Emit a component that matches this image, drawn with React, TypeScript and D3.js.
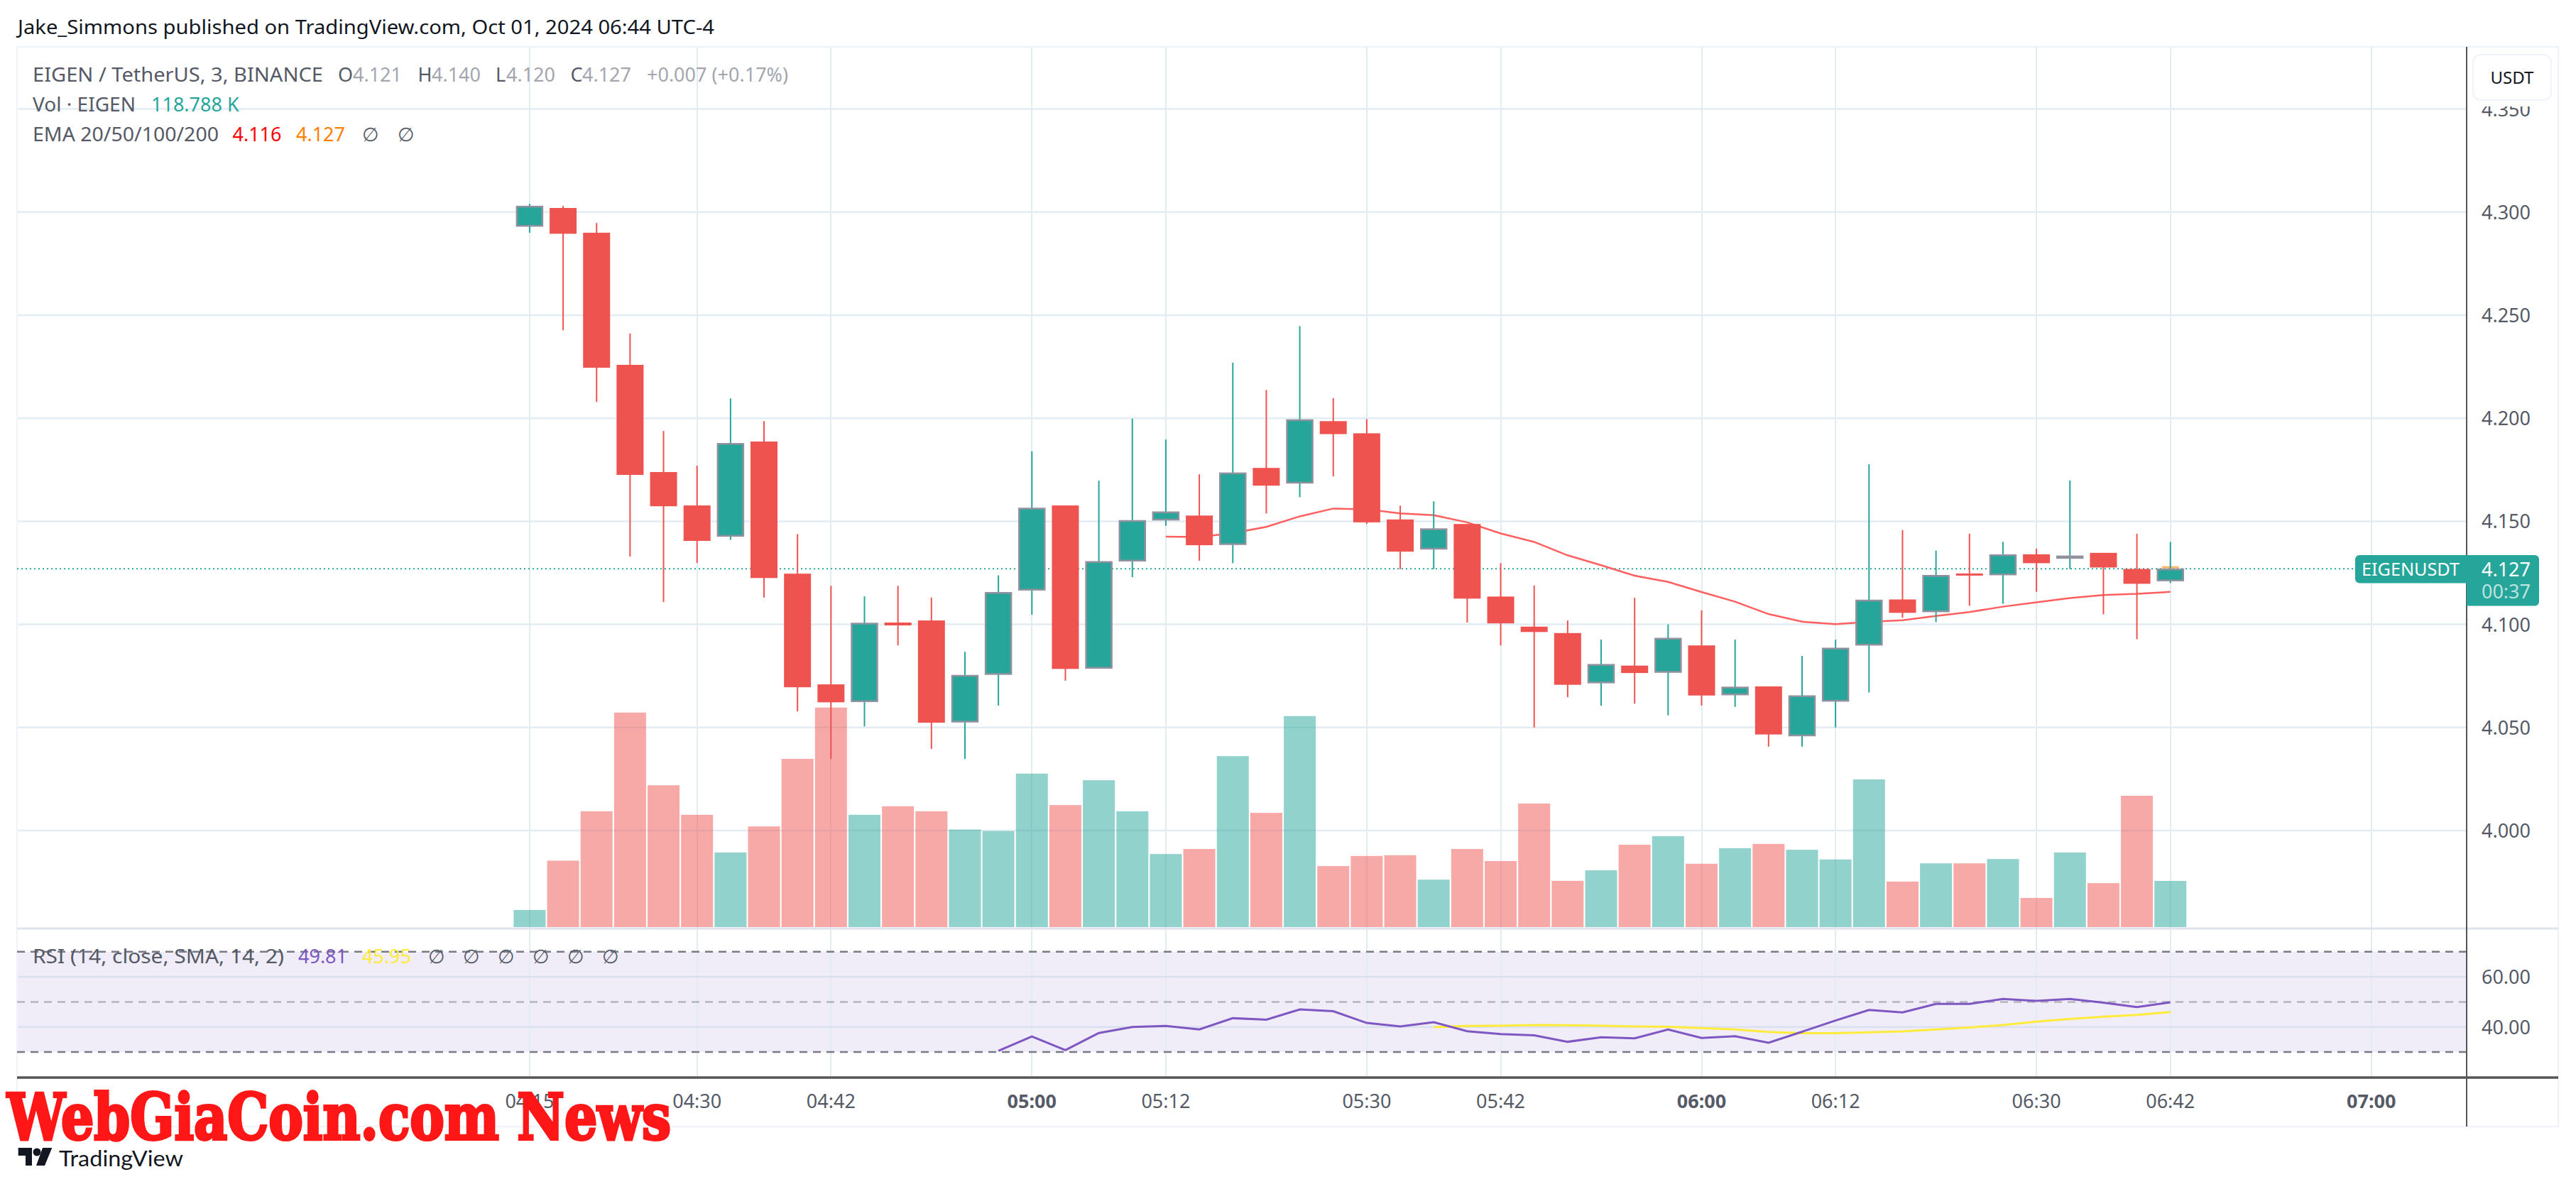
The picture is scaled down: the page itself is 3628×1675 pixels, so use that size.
import React from 'react';
import * as d3 from 'd3';

const opens = [4.293,4.302,4.290,4.2259,4.1739,4.1577,4.1426,4.1887,4.1246,4.0709,4.0624,4.1009,4.1019,4.0525,4.0756,4.1165,4.1577,4.0786,4.1306,4.1505,4.1528,4.1386,4.1759,4.1684,4.1986,4.1927,4.1509,4.1364,4.1487,4.1135,4.0989,4.0958,4.0715,4.08,4.0766,4.0898,4.0657,4.0699,4.0458,4.0626,4.0898,4.1121,4.106,4.1247,4.1239,4.134,4.1326,4.1347,4.1269,4.121];
const closes = [4.303,4.2895,4.2245,4.1725,4.1573,4.1405,4.1879,4.1225,4.0695,4.0622,4.1007,4.0995,4.0523,4.0754,4.1156,4.1565,4.0784,4.1306,4.1505,4.1547,4.1384,4.1736,4.1673,4.1994,4.1923,4.1495,4.1353,4.1465,4.1125,4.1005,4.0963,4.0707,4.0807,4.0764,4.0934,4.0655,4.0697,4.0466,4.0655,4.0886,4.1119,4.1056,4.1239,4.1237,4.1339,4.1297,4.1333,4.1276,4.1197,4.127];
const highs = [4.304,4.303,4.2947,4.2411,4.1938,4.177,4.2096,4.1986,4.1438,4.1187,4.1136,4.1187,4.113,4.0867,4.1238,4.184,4.1577,4.1697,4.1998,4.1897,4.1728,4.2269,4.2137,4.2447,4.2097,4.1996,4.1576,4.1597,4.1487,4.1297,4.1189,4.1019,4.0926,4.1129,4.1,4.1068,4.0926,4.0699,4.0847,4.0926,4.1777,4.1458,4.1358,4.144,4.14,4.1368,4.1698,4.1347,4.144,4.14];
const lows = [4.29,4.2427,4.2079,4.1329,4.1108,4.1298,4.141,4.113,4.0578,4.0347,4.0505,4.0898,4.0396,4.0347,4.0606,4.1047,4.0727,4.0786,4.1229,4.1478,4.1309,4.1297,4.1538,4.1617,4.1718,4.1487,4.1268,4.1268,4.1009,4.0898,4.05,4.0647,4.0606,4.0616,4.0559,4.0606,4.06,4.0407,4.0407,4.05,4.067,4.1032,4.1011,4.109,4.11,4.1158,4.1269,4.1049,4.0928,4.12];
const volumesK = [44,171,298,552,365,289,192,259,433,565,289,311,298,251,247,395,314,378,298,188,201,440,294,543,157,183,185,122,201,170,318,119,146,212,234,163,203,214,199,174,380,117,164,164,175,75,192,113,338,118.788];
const ema20Start = 19;
const ema20 = [4.1426,4.1424,4.1443,4.1473,4.1524,4.1562,4.1558,4.1538,4.153,4.1495,4.1441,4.14,4.1335,4.1287,4.1236,4.1206,4.1157,4.111,4.105,4.1013,4.1001,4.1012,4.102,4.1041,4.106,4.1086,4.1107,4.1128,4.1142,4.1148,4.1158];
const ema50Last = 4.1277;
const rsiStart = 14;
const rsi = [30.5,36.2,30.8,37.6,40.0,40.4,39.0,43.5,42.9,47.0,46.3,41.6,40.2,41.9,38.3,37.2,36.7,34.1,35.9,35.5,39.0,35.6,36.3,33.7,38.1,42.6,46.8,45.8,49.2,49.2,51.2,50.4,51.2,49.7,47.9,49.81];
const smaStart = 27;
const rsiSma = [39.9,40.4,40.5,40.8,40.7,40.5,40.2,40.1,39.6,39.0,38.0,37.5,37.5,37.9,38.2,39.0,39.8,40.8,42.1,43.2,44.1,44.8,45.95];
const priceTicks = [4.0,4.05,4.1,4.15,4.2,4.25,4.3,4.35];
const rsiTicks = [40,60];
const timeTicks: [number,string,boolean][] = [[0,'04:15',false],[5,'04:30',false],[9,'04:42',false],[15,'05:00',true],[19,'05:12',false],[25,'05:30',false],[29,'05:42',false],[35,'06:00',true],[39,'06:12',false],[45,'06:30',false],[49,'06:42',false],[55,'07:00',true]];

const FONT = '"Noto Sans", sans-serif';
const RED = '#ef5350', GREEN = '#26a69a', EDGE = '#8f929e', GRID = '#e2edf3', AXIS = '#555555', TXT = '#555a66', DIM = '#a3a6af';
const L = 24, R = 3474, OUT = 3603, TOP = 66, MID = 1308, PB = 1518, BOT = 1587;

const x = d3.scaleLinear().domain([0, 55]).range([745.9, 3339.7]);
const y = d3.scaleLinear().domain([4.0, 4.3]).range([1170, 298.8]);
const yVol = d3.scaleLinear().domain([0, 600]).range([1306, 977.6]);
const yRsi = d3.scaleLinear().domain([30, 70]).range([1482.1, 1340.7]);

const emaLine = d3.line<number>().x((_, i) => x(i + ema20Start)).y(d => y(d));
const rsiLine = d3.line<number>().x((_, i) => x(i + rsiStart)).y(d => yRsi(d));
const smaLine = d3.line<number>().x((_, i) => x(i + smaStart)).y(d => yRsi(d));

const T = (p: any) => <text fontFamily={FONT} fontSize={27} {...p} />;
const W = (n: number) => ({ textLength: n, lengthAdjust: 'spacingAndGlyphs' });

export default function App() {
  return (
    <svg width={3628} height={1675} viewBox="0 0 3628 1675" style={{ position: 'absolute', left: 0, top: 0, display: 'block', background: '#fff' }}>
      <rect width={3628} height={1675} fill="#fff" />
      <T x={25} y={48} fontSize={28} fill="#131722" {...W(981)}>Jake_Simmons published on TradingView.com, Oct 01, 2024 06:44 UTC-4</T>
      {/* RSI band */}
      <rect x={L} y={yRsi(70)} width={R - L} height={yRsi(30) - yRsi(70)} fill="#7e57c2" fillOpacity={0.115} />
      {/* grid */}
      {timeTicks.map(([i]) => <line key={i} x1={x(i)} x2={x(i)} y1={TOP} y2={PB} stroke={GRID} strokeWidth={2} shapeRendering="crispEdges" />)}
      {priceTicks.map(p => <line key={p} x1={L} x2={R} y1={y(p)} y2={y(p)} stroke={GRID} strokeWidth={2.5} />)}
      {rsiTicks.map(p => <line key={p} x1={L} x2={R} y1={yRsi(p)} y2={yRsi(p)} stroke="#dbe0ef" strokeWidth={2.5} />)}
      {/* frame */}
      <rect x={L} y={TOP} width={OUT - L} height={BOT - TOP} fill="none" stroke="#f0f3fa" strokeWidth={2.5} />
      <line x1={L} x2={OUT} y1={MID} y2={MID} stroke="#e0e3eb" strokeWidth={3} />
      {/* volume */}
      {volumesK.map((v, i) => (
        <rect key={i} x={x(i) - 22.5} width={45} y={yVol(v)} height={1306 - yVol(v)} fill={closes[i] >= opens[i] ? GREEN : RED} fillOpacity={0.5} />
      ))}
      {/* price line */}
      <line x1={L} x2={3317} y1={y(closes[49])} y2={y(closes[49])} stroke={GREEN} strokeWidth={2} strokeDasharray="2 4" />
      {/* EMA */}
      <path d={emaLine(ema20) ?? ''} fill="none" stroke="#ff5f5f" strokeWidth={2.5} />
      <line x1={x(49) - 12} x2={x(49) + 12} y1={y(ema50Last)} y2={y(ema50Last)} stroke="#ffb366" strokeWidth={3} />
      {/* candles */}
      {opens.map((o, i) => {
        const c = closes[i], up = c >= o;
        const col = up ? GREEN : RED;
        const top = y(Math.max(o, c)), bot = y(Math.min(o, c));
        return (
          <g key={i}>
            <line x1={x(i)} x2={x(i)} y1={y(highs[i])} y2={y(lows[i])} stroke={col} strokeWidth={2} />
            {up
              ? <rect x={x(i) - 18} y={top + 1} width={36} height={Math.max(bot - top - 2, 2)} fill={col} stroke={EDGE} strokeWidth={2.5} />
              : <rect x={x(i) - 19} y={top} width={38} height={Math.max(bot - top, 3)} fill={col} />}
          </g>
        );
      })}
      {/* RSI */}
      <line x1={L} x2={R} y1={yRsi(70)} y2={yRsi(70)} stroke="#787b86" strokeWidth={2.5} strokeDasharray="11 8" />
      <line x1={L} x2={R} y1={yRsi(50)} y2={yRsi(50)} stroke="#787b86" strokeOpacity={0.5} strokeWidth={2.5} strokeDasharray="11 8" />
      <line x1={L} x2={R} y1={yRsi(30)} y2={yRsi(30)} stroke="#787b86" strokeWidth={2.5} strokeDasharray="11 8" />
      <path d={smaLine(rsiSma) ?? ''} fill="none" stroke="#ffeb3b" strokeWidth={3} />
      <path d={rsiLine(rsi) ?? ''} fill="none" stroke="#7e57c2" strokeWidth={3} />
      {/* axes */}
      <line x1={L} x2={OUT} y1={PB} y2={PB} stroke={AXIS} strokeWidth={3.5} />
      <line x1={R} x2={R} y1={TOP} y2={BOT} stroke={AXIS} strokeWidth={2} />
      {priceTicks.map(p => <T key={p} x={3529.5} y={y(p) + 10} textAnchor="middle" fill={TXT}>{p.toFixed(3)}</T>)}
      {rsiTicks.map(p => <T key={p} x={3529.5} y={yRsi(p) + 10} textAnchor="middle" fill={TXT}>{p.toFixed(2)}</T>)}
      {timeTicks.map(([i, s, b]) => <T key={i} x={x(i)} y={1561} textAnchor="middle" fill={TXT} fontWeight={b ? 700 : 400}>{s}</T>)}
      {/* USDT: its white margin clips the top of the 4.350 label, as in the reference */}
      <rect x={3476} y={68} width={125} height={82} fill="#fff" />
      <rect x={3483} y={77} width={110} height={64} rx={11} fill="#fff" stroke="#f0f3fa" strokeWidth={2} />
      <T x={3538} y={118} textAnchor="middle" fontSize={24} fill="#131722">USDT</T>
      {/* price label */}
      <path d="M3323 782H3474V821.5H3323a6 6 0 0 1-6-6V788a6 6 0 0 1 6-6Z" fill={GREEN} />
      <path d="M3474 782H3570a6 6 0 0 1 6 6V847.5a6 6 0 0 1-6 6H3474Z" fill={GREEN} />
      <T x={3326} y={811} fill="#fff" fontSize={25} {...W(138)}>EIGENUSDT</T>
      <T x={3529.5} y={811.5} textAnchor="middle" fill="#fff">{closes[49].toFixed(3)}</T>
      <T x={3529.5} y={843} textAnchor="middle" fill="#fff" fillOpacity={0.7}>00:37</T>
      {/* legend */}
      <T x={46} y={115} fill={TXT} {...W(409)}>EIGEN / TetherUS, 3, BINANCE</T>
      <T x={476} y={115} fill={TXT}>O</T><T x={497} y={115} fill={DIM}>4.121</T>
      <T x={588.5} y={115} fill={TXT}>H</T><T x={608} y={115} fill={DIM}>4.140</T>
      <T x={698} y={115} fill={TXT}>L</T><T x={713} y={115} fill={DIM}>4.120</T>
      <T x={803.5} y={115} fill={TXT}>C</T><T x={820} y={115} fill={DIM}>4.127</T>
      <T x={911} y={115} fill={DIM}>+0.007 (+0.17%)</T>
      <T x={46} y={157} fill={TXT} {...W(145)}>Vol · EIGEN</T>
      <T x={213} y={157} fill={GREEN}>118.788 K</T>
      <T x={46} y={199} fill={TXT} {...W(262)}>EMA 20/50/100/200</T>
      <T x={327.5} y={199} fill="#ff0000">4.116</T>
      <T x={417} y={199} fill="#ff7f00">4.127</T>
      <T x={510} y={199} fill={TXT}>∅</T>
      <T x={559.5} y={199} fill={TXT}>∅</T>
      <T x={46} y={1357} fill={TXT} {...W(354)}>RSI (14, close, SMA, 14, 2)</T>
      <T x={420} y={1357} fill="#7e57c2">49.81</T>
      <T x={510} y={1357} fill="#ffeb3b">45.95</T>
      {[603, 652, 701, 750, 799, 848].map(px => <T key={px} x={px} y={1357} fill={TXT}>∅</T>)}
      {/* watermark */}
      <text x={10} y={1605} fontFamily='"DejaVu Serif", serif' fontWeight={700} fontSize={90} fill="#ff1616" stroke="#ff1616" strokeWidth={4} textLength={935} lengthAdjust="spacingAndGlyphs">WebGiaCoin.com News</text>
      {/* logo */}
      <g fill="#131722">
        <path d="M25.7 1617H45V1642H36V1628H25.7Z" />
        <circle cx={52} cy={1623} r={5.5} />
        <path d="M60 1617H73.3L63 1642H51Z" />
      </g>
      <T x={83} y={1642.5} fontFamily="Lato, sans-serif" fontSize={31} fill="#131722" {...W(175)}>TradingView</T>
    </svg>
  );
}
